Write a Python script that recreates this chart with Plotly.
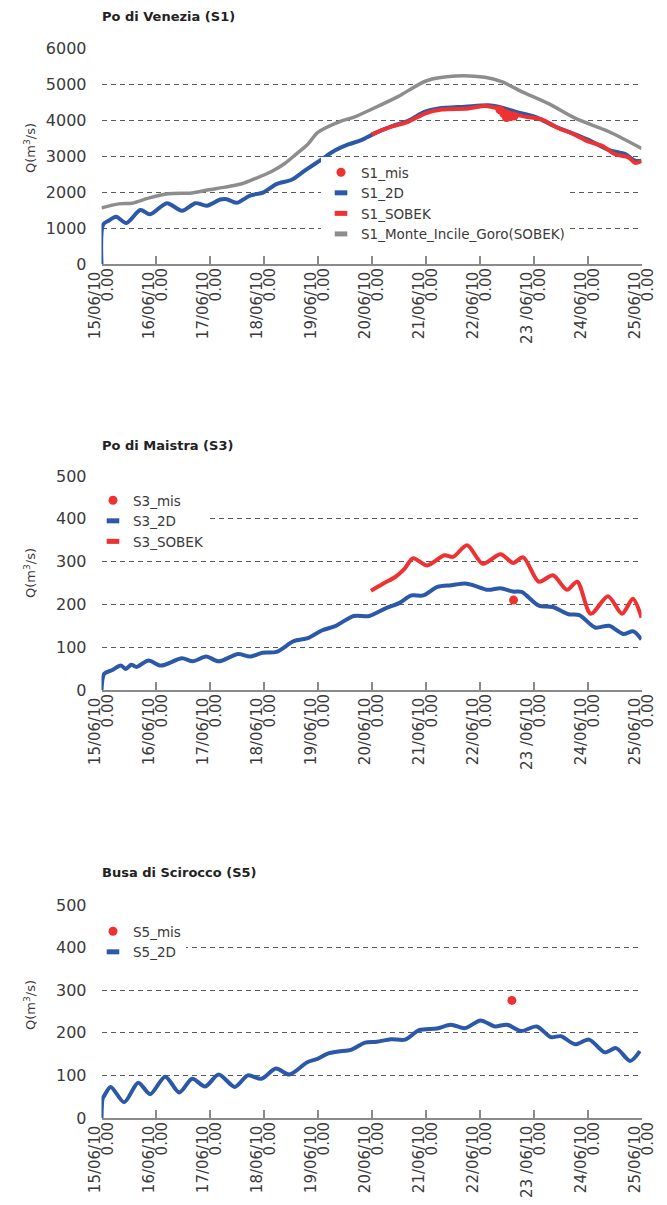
import plotly.graph_objects as go

# ---------------- data (time in days from 15/06/10 0.00) ----------------
day_ticks = list(range(11))
date_labels = ["15/06/10", "16/06/10", "17/06/10", "18/06/10", "19/06/10", "20/06/10",
               "21/06/10", "22/06/10", "23 /06/10", "24/06/10", "25/06/10"]
hour_labels = ["0.00"] * 11

# Po di Venezia (S1)
s1_2d_t = [0, 0.03, 0.14, 0.27, 0.46, 0.72, 0.9, 1.21, 1.49, 1.74, 1.95, 2.2, 2.32, 2.5, 2.75,
           3.0, 3.24, 3.52, 3.77, 4.07, 4.32, 4.57, 4.81, 5.06, 5.37, 5.68, 5.99, 6.24, 6.73,
           7.16, 7.35, 7.66, 8.03, 8.4, 8.64, 9.02, 9.39, 9.7, 9.88, 10.0]
s1_2d_q = [0, 1100, 1210, 1310, 1140, 1500, 1380, 1690, 1480, 1690, 1620, 1790, 1800, 1700, 1900,
           1990, 2220, 2340, 2600, 2900, 3150, 3320, 3440, 3630, 3820, 3980, 4230, 4320, 4370,
           4410, 4370, 4230, 4090, 3820, 3680, 3450, 3170, 3050, 2870, 2870]
s1_sobek_t = [5.0, 5.37, 5.68, 5.99, 6.3, 6.79, 7.1, 7.35, 7.6, 7.84, 8.15, 8.46, 8.71, 9.02,
              9.27, 9.51, 9.76, 9.88, 10.0]
s1_sobek_q = [3600, 3815, 3950, 4180, 4290, 4320, 4390, 4320, 4185, 4093, 4020, 3770, 3630, 3400,
              3280, 3050, 2960, 2810, 2860]
s1_monte_t = [0, 0.32, 0.57, 0.87, 1.24, 1.67, 1.98, 2.29, 2.6, 2.84, 3.15, 3.4, 3.58, 3.83,
              4.0, 4.4, 4.69, 5.06, 5.49, 6.02, 6.55, 7.1, 7.41, 7.78, 8.27, 8.77, 9.39, 10.0]
s1_monte_q = [1560, 1670, 1690, 1830, 1950, 1975, 2060, 2135, 2230, 2370, 2570, 2800, 3020, 3340,
              3650, 3950, 4090, 4340, 4650, 5090, 5220, 5185, 5065, 4790, 4460, 4050, 3680, 3210]
s1_mis_t = [7.38, 7.45, 7.5, 7.58, 7.64]
s1_mis_q = [4280, 4180, 4070, 4100, 4110]

# Po di Maistra (S3)
s3_2d_t = [0, 0.05, 0.19, 0.36, 0.45, 0.55, 0.65, 0.87, 1.1, 1.49, 1.69, 1.94, 2.17, 2.53, 2.75,
           2.98, 3.24, 3.56, 3.82, 4.08, 4.34, 4.67, 4.96, 5.25, 5.51, 5.74, 5.96, 6.22, 6.48,
           6.74, 6.9, 7.16, 7.39, 7.62, 7.78, 8.1, 8.36, 8.65, 8.85, 9.14, 9.4, 9.66, 9.85, 10.0]
s3_2d_q = [0, 38, 46, 57, 49, 59, 54, 69, 57, 74, 67, 78, 67, 84, 78,
           87, 89, 114, 121, 139, 150, 173, 173, 190, 203, 221, 221, 241, 245,
           249, 244, 234, 238, 230, 229, 197, 194, 177, 175, 146, 150, 131, 137, 118]
s3_sobek_t = [4.99, 5.22, 5.44, 5.61, 5.77, 6.03, 6.35, 6.51, 6.77, 7.06, 7.39, 7.62, 7.81,
              8.1, 8.36, 8.62, 8.81, 9.06, 9.38, 9.64, 9.84, 10.0]
s3_sobek_q = [232, 249, 264, 283, 308, 291, 315, 311, 338, 295, 317, 297, 310,
              253, 268, 234, 253, 178, 219, 178, 213, 169]
s3_mis_t = [7.63]
s3_mis_q = [210]

# Busa di Scirocco (S5)
s5_2d_t = [0, 0.02, 0.05, 0.17, 0.42, 0.68, 0.9, 1.18, 1.44, 1.68, 1.92, 2.17, 2.47, 2.71, 2.96,
           3.23, 3.48, 3.81, 4.0, 4.19, 4.39, 4.62, 4.88, 5.1, 5.36, 5.62, 5.88, 6.21, 6.47,
           6.73, 7.02, 7.28, 7.51, 7.77, 8.06, 8.32, 8.51, 8.77, 9.03, 9.32, 9.53, 9.79, 9.97]
s5_2d_q = [0, 45, 52, 73, 37, 83, 56, 97, 60, 92, 74, 102, 73, 100, 92,
           116, 102, 131, 139, 151, 156, 160, 177, 179, 185, 184, 206, 210, 219,
           211, 229, 215, 219, 204, 215, 190, 192, 173, 184, 154, 164, 134, 157]
s5_mis_t = [7.6]
s5_mis_q = [276]

# ---------------- style ----------------
BLUE = "#2b58a7"
RED = "#ee3133"
GRAY = "#8d8d8d"
GRID = "#5a5a5a"
AXIS = "#8a8a8a"
FONT = "DejaVu Sans"

OFF = 8  # page body margin
W, H = 667 - 2 * OFF, 1205 - 2 * OFF


def px(p):
    return (p - OFF) / W


def py(p):
    return 1 - (p - OFF) / H


X0, X1 = 101.5, 641.5
panels = [
    # (top px, bottom px, ymax, dtick, title, title y px, ytitle y px, legend x px, legend top px)
    (48, 264, 6000, 1000, "Po di Venezia (S1)", 17, 148, 321, 157),
    (476, 690, 500, 100, "Po di Maistra (S3)", 445, 573, 93, 485),
    (905, 1118, 500, 100, "Busa di Scirocco (S5)", 873, 1005, 93, 916),
]

fig = go.Figure()


def line(t, q, name, color, width, k, legend):
    fig.add_trace(go.Scatter(x=t, y=q, mode="lines", name=name, showlegend=False,
                             line=dict(color=color, width=width, shape="spline", smoothing=0.8),
                             xaxis="x" if k == 1 else f"x{k}", yaxis="y" if k == 1 else f"y{k}",
                             legend=legend))


def dots(t, q, name, k, legend):
    fig.add_trace(go.Scatter(x=t, y=q, mode="markers", name=name,
                             marker=dict(color=RED, size=9, symbol="circle"),
                             xaxis="x" if k == 1 else f"x{k}", yaxis="y" if k == 1 else f"y{k}",
                             legend=legend))


def key(name, color, k, legend):
    fig.add_trace(go.Scatter(x=[None], y=[None], mode="markers", name=name,
                             marker=dict(symbol="line-ew", size=9, line=dict(color=color, width=5)),
                             xaxis="x" if k == 1 else f"x{k}", yaxis="y" if k == 1 else f"y{k}",
                             legend=legend))


# panel 1
line(s1_monte_t, s1_monte_q, "S1_Monte_Incile_Goro(SOBEK)", GRAY, 3.5, 1, "legend")
line(s1_2d_t, s1_2d_q, "S1_2D", BLUE, 4, 1, "legend")
line(s1_sobek_t, s1_sobek_q, "S1_SOBEK", RED, 4, 1, "legend")
dots(s1_mis_t, s1_mis_q, "S1_mis", 1, "legend")
key("S1_2D", BLUE, 1, "legend")
key("S1_SOBEK", RED, 1, "legend")
key("S1_Monte_Incile_Goro(SOBEK)", GRAY, 1, "legend")

# panel 2
line(s3_2d_t, s3_2d_q, "S3_2D", BLUE, 4, 2, "legend2")
line(s3_sobek_t, s3_sobek_q, "S3_SOBEK", RED, 4, 2, "legend2")
dots(s3_mis_t, s3_mis_q, "S3_mis", 2, "legend2")
key("S3_2D", BLUE, 2, "legend2")
key("S3_SOBEK", RED, 2, "legend2")

# panel 3
line(s5_2d_t, s5_2d_q, "S5_2D", BLUE, 4, 3, "legend3")
dots(s5_mis_t, s5_mis_q, "S5_mis", 3, "legend3")
key("S5_2D", BLUE, 3, "legend3")

layout = dict(width=W, height=H, autosize=False,
              margin=dict(l=0, r=0, t=0, b=0, pad=0, autoexpand=False),
              paper_bgcolor="white", plot_bgcolor="white",
              font=dict(family=FONT, color="#3a3a3a"), annotations=[])

xdom = [px(X0), px(X1)]
for i, (top, bot, ymax, dt, title, ty, qy, lx, ltop) in enumerate(panels):
    k = i + 1
    xa = "xaxis" if k == 1 else f"xaxis{k}"
    ya = "yaxis" if k == 1 else f"yaxis{k}"
    yref = "y" if k == 1 else f"y{k}"
    xref = "x" if k == 1 else f"x{k}"
    layout[xa] = dict(domain=xdom, anchor=yref, range=[0, 10], showgrid=False, zeroline=False,
                      showline=True, linecolor=AXIS, linewidth=1.5, ticks="inside", ticklen=8,
                      tickcolor=AXIS, tickwidth=1.5, tickmode="array", tickvals=day_ticks,
                      ticktext=date_labels, tickangle=-90, ticklabelshift=-6, automargin=False,
                      tickfont=dict(size=15, color="#3a3a3a"))
    ov = f"xaxis{k + 3}"
    layout[ov] = dict(domain=xdom, anchor=yref, overlaying=xref, range=[0, 10], showgrid=False,
                      zeroline=False, showline=False, ticks="", tickmode="array",
                      tickvals=day_ticks, ticktext=hour_labels, tickangle=-90, ticklabelshift=7,
                      automargin=False, tickfont=dict(size=15, color="#3a3a3a"))
    fig.add_trace(go.Scatter(x=[None], y=[None], xaxis=f"x{k + 3}", yaxis=yref, showlegend=False,
                             hoverinfo="skip"))
    layout[ya] = dict(domain=[py(bot), py(top)], anchor=xref, range=[0, ymax], dtick=dt,
                      tick0=0, showgrid=True, gridcolor=GRID, gridwidth=1, griddash="5px,4px",
                      zeroline=False, showline=False, ticks="", ticklabelstandoff=14,
                      automargin=False, tickfont=dict(size=16, color="#3a3a3a"))
    layout["annotations"].append(dict(text=f"<b>{title}</b>", x=px(100), y=py(ty),
                                      xref="paper", yref="paper", xanchor="left",
                                      yanchor="middle", showarrow=False,
                                      font=dict(size=13, color="#222222")))
    layout["annotations"].append(dict(text="Q(m<sup>3</sup>/s)", x=px(30), y=py(qy),
                                      xref="paper", yref="paper", xanchor="center",
                                      yanchor="middle", textangle=-90, showarrow=False,
                                      font=dict(size=13, color="#3a3a3a")))
    lg = "legend" if k == 1 else f"legend{k}"
    layout[lg] = dict(x=px(lx), y=py(ltop), xanchor="left", yanchor="top",
                      bgcolor="white", borderwidth=0, tracegroupgap=0, itemwidth=30,
                      font=dict(size=13.5, color="#3a3a3a"), traceorder="normal")

fig.update_layout(**layout)
fig.update_layout(showlegend=True)
fig.write_html("out.html")
